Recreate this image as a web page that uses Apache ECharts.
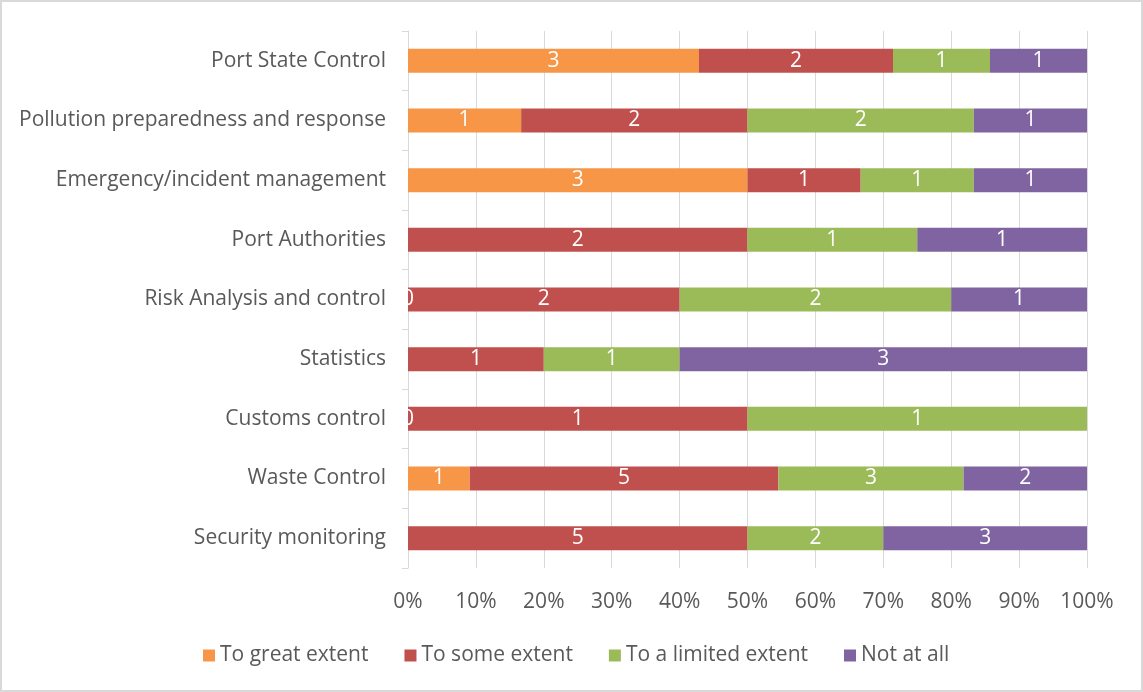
<!DOCTYPE html>
<html>
<head>
<meta charset="utf-8">
<script src="https://cdn.jsdelivr.net/npm/echarts@6/dist/echarts.min.js"></script>
<style>
  html, body { margin: 0; padding: 0; background: #fff; }
  #chart { width: 1139px; height: 688px; border: 2px solid #d9d9d9; }
</style>
</head>
<body>
<div id="chart"></div>
<script>
// categories, bottom to top as ECharts draws them
const categories = [
  "Security monitoring",
  "Waste Control",
  "Customs control",
  "Statistics",
  "Risk Analysis and control",
  "Port Authorities",
  "Emergency/incident management",
  "Pollution preparedness and response",
  "Port State Control"
];
const seriesNames = ["To great extent", "To some extent", "To a limited extent", "Not at all"];
const colors = ["#F79646", "#C0504D", "#9BBB59", "#8064A2"];

// counts (null = no response shown)
const greatExtent   = [null, 1, 0, null, 0, null, 3, 1, 3];
const someExtent    = [5, 5, 1, 1, 2, 2, 1, 2, 2];
const limitedExtent = [2, 3, 1, 1, 2, 1, 1, 2, 1];
const notAtAll      = [3, 2, null, 3, 1, 1, 1, 1, 1];

const xTicks = ["0%", "10%", "20%", "30%", "40%", "50%", "60%", "70%", "80%", "90%", "100%"];

const raw = [greatExtent, someExtent, limitedExtent, notAtAll];
const totals = categories.map((_, i) => raw.reduce((s, arr) => s + (arr[i] || 0), 0));
const font = "Open Sans";

const series = raw.map((arr, k) => ({
  name: seriesNames[k],
  type: "bar",
  stack: "total",
  barWidth: 24,
  itemStyle: { color: colors[k] },
  label: {
    show: true,
    position: "inside",
    color: "#fff",
    fontSize: 21,
    fontFamily: font,
    formatter: p => p.data.count
  },
  data: arr.map((v, i) => v === null ? null : { value: v / totals[i] * 100, count: v })
}));

const chart = echarts.init(document.getElementById("chart"));
chart.setOption({
  animation: false,
  textStyle: { fontFamily: font },
  grid: { left: 406, right: 54, top: 29, bottom: 122 },
  legend: {
    bottom: 19,
    left: 196,
    itemWidth: 12,
    itemHeight: 12,
    itemGap: 36,
    icon: "rect",
    textStyle: { fontSize: 21, color: "#595959", fontFamily: font },
    data: seriesNames
  },
  xAxis: {
    type: "value",
    min: 0,
    max: 100,
    interval: 10,
    axisLine: { show: false },
    axisTick: { show: false },
    splitLine: { lineStyle: { color: "#d9d9d9" } },
    axisLabel: {
      fontSize: 21,
      color: "#595959",
      margin: 24,
      fontFamily: font,
      formatter: v => xTicks[Math.round(v / 10)]
    }
  },
  yAxis: {
    type: "category",
    data: categories,
    axisLine: { lineStyle: { color: "#d9d9d9" } },
    axisTick: { show: true, length: 6, lineStyle: { color: "#d9d9d9" } },
    axisLabel: { fontSize: 21, color: "#595959", margin: 22, fontFamily: font }
  },
  series: series
});
</script>
</body>
</html>
